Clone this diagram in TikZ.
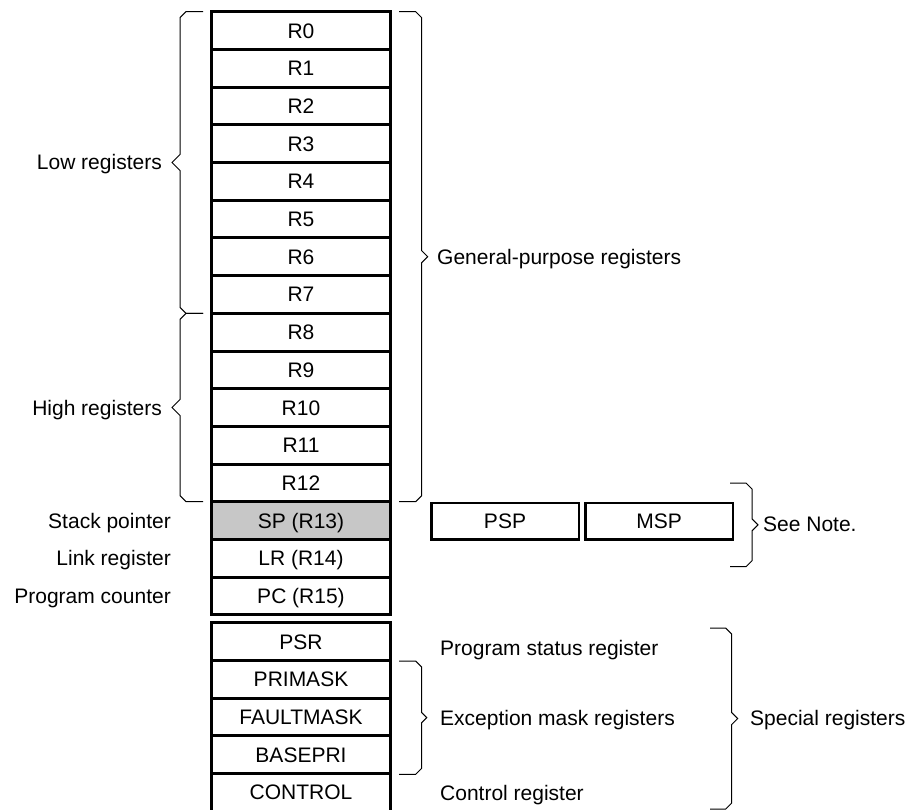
\documentclass[tikz,border=0pt]{standalone}
\usepackage{fontspec}
\setmainfont{Liberation Sans}
\usetikzlibrary{positioning}
\newcommand{\regfont}{\fontsize{21}{25}\selectfont}
\tikzset{reg/.style={draw, line width=3pt, minimum width=179pt, minimum height=37.7pt, inner sep=0pt, text height=15pt, text depth=0pt, font=\regfont}}
\tikzset{stk/.style={draw, line width=2.5pt, minimum width=147.5pt, minimum height=36.5pt, inner sep=0pt, text height=15pt, text depth=0pt, font=\regfont}}
\tikzset{lbl/.style={inner sep=0pt, text height=15pt, text depth=0pt, font=\regfont}}
\tikzset{brak/.style={line width=1pt, line join=miter}}
% stub x, spine x, top y, bottom y, side (1 right, -1 left), tip size
\newcommand{\regbrace}[6]{%
  \draw[brak] (#1,#3) -- ({#2-#5*6},#3) -- (#2,{#3+6}) -- (#2,{(#3+#4)/2-#6})
    -- ({#2+#5*#6},{(#3+#4)/2}) -- (#2,{(#3+#4)/2+#6}) -- (#2,{#4-6})
    -- ({#2-#5*6},#4) -- (#1,#4);}

\begin{document}
\begin{tikzpicture}[x=1pt,y=-1pt]
  \useasboundingbox (0,0) rectangle (912,810);
  \foreach \i/\lab/\txt/\fc in {
    0/r0/R0/white, 1/r1/R1/white, 2/r2/R2/white, 3/r3/R3/white,
    4/r4/R4/white, 5/r5/R5/white, 6/r6/R6/white, 7/r7/R7/white,
    8/r8/R8/white, 9/r9/R9/white, 10/r10/R10/white, 11/r11/R11/white,
    12/r12/R12/white, 13/sp/SP (R13)/black!22, 14/lr/LR (R14)/white,
    15/pc/PC (R15)/white%
  } {
    \node[reg, fill=\fc] (\lab) at (301, {30.55+37.7*\i}) {\txt};
  }
  \foreach \i/\lab/\txt in {
    0/psr/PSR,
    1/primask/PRIMASK,
    2/faultmask/FAULTMASK,
    3/basepri/BASEPRI,
    4/control/CONTROL%
  } {
    \node[reg] (\lab) at (301, {641.55+37.7*\i}) {\txt};
  }
  \foreach \lab/\txt in {sp/Stack pointer, lr/Link register, pc/Program counter} {
    \node[lbl, anchor=east] (\lab-name) at ([xshift=-39pt]\lab.west) {\txt};
  }
  \node[stk] (psp) at (505, 521) {PSP};
  \node[stk, right=4pt of psp] (msp) {MSP};

  \regbrace{203}{180}{11.7}{313.3}{-1}{8}
  \regbrace{203}{180}{313.3}{501.7}{-1}{8}
  \regbrace{399}{421.7}{11.7}{501.7}{1}{6}
  \regbrace{730}{752}{483}{566.7}{1}{6}
  \regbrace{399}{421.7}{661}{774.3}{1}{5}
  \regbrace{710}{731.7}{628}{809}{1}{6}

  \node[lbl, anchor=east] (low) at (162, 162.5) {Low registers};
  \node[lbl, anchor=east] (high) at (162, 407.5) {High registers};
  \node[lbl, anchor=west] (gpr) at (437, 256.7) {General-purpose registers};
  \node[lbl, anchor=west] (note) at (763, 524) {See Note.};
  \node[lbl, anchor=west] (psr-name) at (440, 648) {Program status register};
  \node[lbl, anchor=west] (mask-name) at (440, 718) {Exception mask registers};
  \node[lbl, anchor=west] (control-name) at (440, 793) {Control register};
  \node[lbl, anchor=west] (special) at (750, 718) {Special registers};
\end{tikzpicture}
\end{document}
